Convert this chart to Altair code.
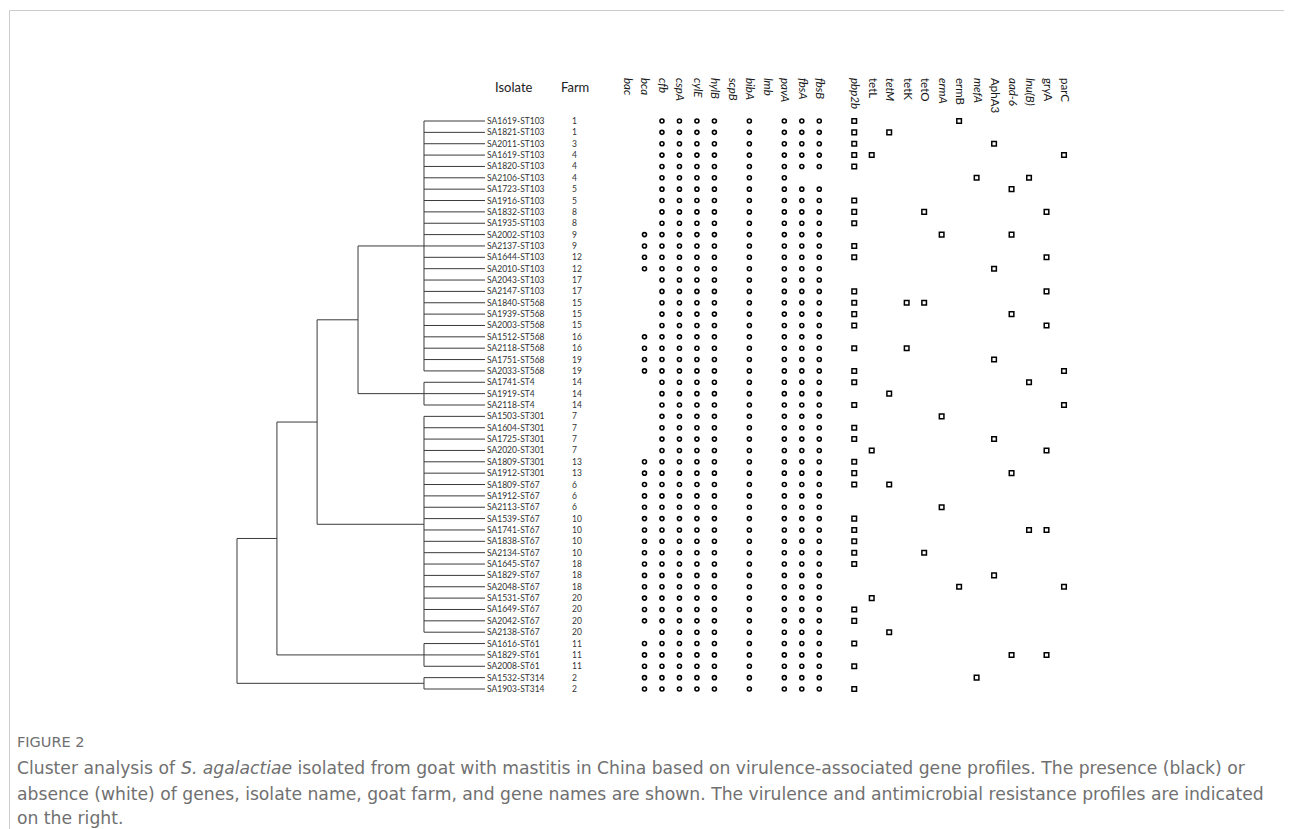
import altair as alt
import pandas as pd

# ---------------- data ----------------
isolates = ["SA1619-ST103", "SA1821-ST103", "SA2011-ST103", "SA1619-ST103", "SA1820-ST103",
            "SA2106-ST103", "SA1723-ST103", "SA1916-ST103", "SA1832-ST103", "SA1935-ST103",
            "SA2002-ST103", "SA2137-ST103", "SA1644-ST103", "SA2010-ST103", "SA2043-ST103",
            "SA2147-ST103", "SA1840-ST568", "SA1939-ST568", "SA2003-ST568", "SA1512-ST568",
            "SA2118-ST568", "SA1751-ST568", "SA2033-ST568", "SA1741-ST4", "SA1919-ST4",
            "SA2118-ST4", "SA1503-ST301", "SA1604-ST301", "SA1725-ST301", "SA2020-ST301",
            "SA1809-ST301", "SA1912-ST301", "SA1809-ST67", "SA1912-ST67", "SA2113-ST67",
            "SA1539-ST67", "SA1741-ST67", "SA1838-ST67", "SA2134-ST67", "SA1645-ST67",
            "SA1829-ST67", "SA2048-ST67", "SA1531-ST67", "SA1649-ST67", "SA2042-ST67",
            "SA2138-ST67", "SA1616-ST61", "SA1829-ST61", "SA2008-ST61", "SA1532-ST314",
            "SA1903-ST314"]
farms = [1, 1, 3, 4, 4, 4, 5, 5, 8, 8, 9, 9, 12, 12, 17, 17, 15, 15, 15, 16,
         16, 19, 19, 14, 14, 14, 7, 7, 7, 7, 13, 13, 6, 6, 6, 10, 10, 10, 10, 18,
         18, 18, 20, 20, 20, 20, 11, 11, 11, 2, 2]

virulence_genes = ["bac", "bca", "cfb", "cspA", "cylE", "hylB", "scpB", "bibA", "lmb",
                   "pavA", "fbsA", "fbsB"]
resistance_genes = ["pbp2b", "tetL", "tetM", "tetK", "tetO", "ermA", "ermB", "mefA",
                    "AphA3", "aad-6", "lnu(B)", "gryA", "parC"]
upright_genes = ["tetL", "tetK", "tetO", "ermB", "AphA3", "gryA", "parC"]

# presence (1) / absence (0), one string per isolate, in gene order
virulence_profiles = [
    "001111010111", "001111010111", "001111010111", "001111010111", "001111010111",
    "001111010100", "001111010111", "001111010111", "001111010111", "001111010111",
    "011111010111", "011111010111", "011111010111", "011111010111", "001111010111",
    "001111010111", "001111010111", "001111010111", "001111010111", "011111010111",
    "011111010111", "011111010111", "011111010111", "001111010111", "001111010111",
    "001111010111", "001111010111", "001111010111", "001111010111", "001111010111",
    "011111010111", "011111010111", "011111010111", "011111010111", "011111010111",
    "011111010111", "011111010111", "011111010111", "011111010111", "011111010111",
    "011111010111", "011111010111", "011111010111", "011111010111", "011111010111",
    "001111010111", "011111010111", "011111010111", "011111010111", "011111010111",
    "011111010111"]
resistance_profiles = [
    "1000001000000", "1010000000000", "1000000010000", "1100000000001", "1000000000000",
    "0000000100100", "0000000001000", "1000000000000", "1000100000010", "1000000000000",
    "0000010001000", "1000000000000", "1000000000010", "0000000010000", "0000000000000",
    "1000000000010", "1001100000000", "1000000001000", "1000000000010", "0000000000000",
    "1001000000000", "0000000010000", "1000000000001", "1000000000100", "0010000000000",
    "1000000000001", "0000010000000", "1000000000000", "1000000010000", "0100000000010",
    "1000000000000", "1000000001000", "1010000000000", "0000000000000", "0000010000000",
    "1000000000000", "1000000000110", "1000000000000", "1000100000000", "1000000000000",
    "0000000010000", "0000001000001", "0100000000000", "1000000000000", "1000000000000",
    "0010000000000", "1000000000000", "0000000001010", "1000000000000", "0000000100000",
    "1000000000000"]

# dendrogram: terminal clusters (first row, last row), their height,
# then successive merges (ladder) with their heights
cluster_rows = [(0, 22), (23, 25), (26, 45), (46, 48), (49, 50)]
cluster_height = 0.246
merge_heights = [0.512, 0.677, 0.839, 1.0]

caption_title = "FIGURE 2"
caption_a = "Cluster analysis of "
caption_b = "S. agalactiae"
caption_c = "isolated from goat with mastitis in China based on virulence-associated gene profiles. The presence (black) or"
caption_2 = "absence (white) of genes, isolate name, goat farm, and gene names are shown. The virulence and antimicrobial resistance profiles are indicated"
caption_3 = "on the right."

# ---------------- tables ----------------
rows_df = pd.DataFrame({"row": list(range(len(isolates))), "isolate": isolates,
                        "farm": [str(f) for f in farms]})

vir_rec, res_rec = [], []
for i in range(len(isolates)):
    for j, g in enumerate(virulence_genes):
        if virulence_profiles[i][j] == "1":
            vir_rec.append({"row": i, "gene": g})
    for j, g in enumerate(resistance_genes):
        if resistance_profiles[i][j] == "1":
            res_rec.append({"row": i, "gene": g})
vir_df = pd.DataFrame(vir_rec)
res_df = pd.DataFrame(res_rec)

all_genes = virulence_genes + resistance_genes
head_df = pd.DataFrame({"gene": all_genes,
                        "upright": [g in upright_genes for g in all_genes]})

segs = []
centers = []
for (a, b) in cluster_rows:
    for r in range(a, b + 1):
        segs.append({"h1": 0.0, "h2": cluster_height, "r1": r, "r2": r})
    segs.append({"h1": cluster_height, "h2": cluster_height, "r1": a, "r2": b})
    centers.append((a + b) / 2)
cur_y, cur_h = centers[0], cluster_height
for k, m in enumerate(merge_heights):
    gy = centers[k + 1]
    segs.append({"h1": cur_h, "h2": m, "r1": cur_y, "r2": cur_y})
    segs.append({"h1": cluster_height, "h2": m, "r1": gy, "r2": gy})
    segs.append({"h1": m, "h2": m, "r1": cur_y, "r2": gy})
    cur_y, cur_h = (cur_y + gy) / 2, m
seg_df = pd.DataFrame(segs)

# ---------------- layout / scales ----------------
W, H = 1274, 800
ox, oy = 9.5, 10.5  # plot origin on the page
n = len(isolates)
yscale = alt.Scale(domain=[0, n - 1], range=[121 - oy, 689 - oy], zero=False, nice=False)
hscale = alt.Scale(domain=[max(merge_heights), 0], range=[237 - ox, 485 - ox],
                   zero=False, nice=False)
gene_domain = virulence_genes + [" "] + resistance_genes
gscale = alt.Scale(type="point", domain=gene_domain, range=[627 - ox, 1064 - ox], padding=0)

FONT = "Lato"
dummy = pd.DataFrame({"k": [0]})

dend = alt.Chart(seg_df).mark_rule(color="#3a3a3a", strokeWidth=1).encode(
    x=alt.X("h1:Q", scale=hscale, axis=None), x2="h2:Q",
    y=alt.Y("r1:Q", scale=yscale, axis=None), y2="r2:Q")

iso_text = alt.Chart(rows_df).mark_text(align="left", baseline="middle", font=FONT,
                                        fontSize=8.5, color="#333333").encode(
    x=alt.value(487 - ox), y=alt.Y("row:Q", scale=yscale, axis=None), text="isolate:N")
farm_text = alt.Chart(rows_df).mark_text(align="left", baseline="middle", font=FONT,
                                         fontSize=8.5, color="#333333").encode(
    x=alt.value(572 - ox), y=alt.Y("row:Q", scale=yscale, axis=None), text="farm:N")

circles = alt.Chart(vir_df).mark_point(shape="circle", filled=False, color="black",
                                       strokeWidth=1.6, size=16, opacity=1).encode(
    x=alt.X("gene:N", scale=gscale, axis=None),
    y=alt.Y("row:Q", scale=yscale, axis=None))
squares = alt.Chart(res_df).mark_point(shape="square", filled=False, color="black",
                                       strokeWidth=1.5, size=21, opacity=1).encode(
    x=alt.X("gene:N", scale=gscale, axis=None),
    y=alt.Y("row:Q", scale=yscale, axis=None))

head_it = alt.Chart(head_df).transform_filter("!datum.upright").mark_text(
    angle=90, align="left", baseline="middle", font=FONT, fontSize=11.5,
    fontStyle="italic", color="#1a1a1a").encode(
    x=alt.X("gene:N", scale=gscale, axis=None), y=alt.value(78 - oy), text="gene:N")
head_up = alt.Chart(head_df).transform_filter("datum.upright").mark_text(
    angle=90, align="left", baseline="middle", font=FONT, fontSize=11.5,
    color="#1a1a1a").encode(
    x=alt.X("gene:N", scale=gscale, axis=None), y=alt.value(78 - oy), text="gene:N")

col_iso = alt.Chart(dummy).mark_text(text="Isolate", align="left", baseline="alphabetic",
                                     font=FONT, fontSize=13, color="#222222").encode(
    x=alt.value(495 - ox), y=alt.value(92 - oy))
col_farm = alt.Chart(dummy).mark_text(text="Farm", align="left", baseline="alphabetic",
                                      font=FONT, fontSize=13, color="#222222").encode(
    x=alt.value(561 - ox), y=alt.value(92 - oy))

frame_top = alt.Chart(dummy).mark_rule(color="#cccccc", strokeWidth=1).encode(
    x=alt.value(0), x2=alt.value(W + 10), y=alt.value(0))
frame_left = alt.Chart(dummy).mark_rule(color="#cccccc", strokeWidth=1).encode(
    x=alt.value(0), y=alt.value(0), y2=alt.value(H + 30))

CAP = "DejaVu Sans"
CAPC = "#707070"
CAPSIZE = 17.2
def cap(txt, x, y, size=CAPSIZE, style="normal"):
    return alt.Chart(dummy).mark_text(text=txt, align="left", baseline="middle", font=CAP,
                                      fontSize=size, fontStyle=style, color=CAPC).encode(
        x=alt.value(x - ox), y=alt.value(y - oy))

caption = [
    cap(caption_title, 17, 743, size=14.5),
    cap(caption_a, 17, 769),
    cap(caption_b, 181, 769, style="italic"),
    cap(caption_c, 297.5, 769),
    cap(caption_2, 17, 795),
    cap(caption_3, 17, 819),
]

chart = alt.layer(frame_top, frame_left, dend, iso_text, farm_text, circles, squares,
                  head_it, head_up, col_iso, col_farm, *caption).resolve_scale(
    x="independent").properties(
    width=W, height=H,
    autosize=alt.AutoSizeParams(type="none"),
    padding={"left": 1.5, "top": 2.5, "right": 0, "bottom": 18.5},
).configure(background="white", view=alt.ViewConfig(strokeWidth=0, stroke=None))

chart.save("out.html", embed_options={"renderer": "svg", "actions": False})
